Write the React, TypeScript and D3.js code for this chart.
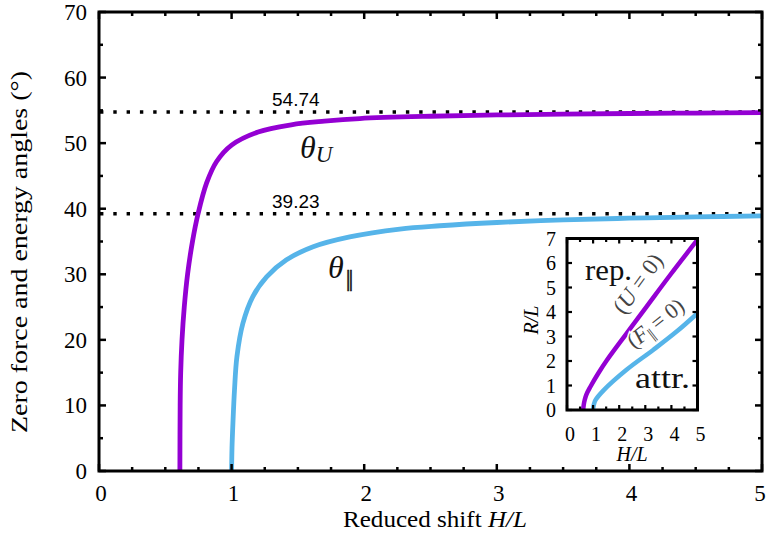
import React from 'react';
import * as d3 from 'd3';

// ---- main panel data ----
const thetaU_H = [0.61, 0.612, 0.616, 0.626, 0.643, 0.668, 0.705, 0.748, 0.811, 0.887, 1.0, 1.2, 1.45, 1.7, 1.967, 2.5, 3.0, 3.5, 4.0, 4.5, 5.0];
const thetaU_deg = [0, 10, 15, 20, 25, 30, 35, 39.3, 43.9, 47.2, 49.7, 51.7, 52.8, 53.35, 53.75, 54.1, 54.3, 54.42, 54.52, 54.59, 54.65];
const thetaPar_H = [1.0, 1.003, 1.01, 1.022, 1.04, 1.085, 1.16, 1.264, 1.414, 1.615, 1.891, 2.268, 2.57, 3.0, 3.5, 4.0, 4.5, 5.0];
const thetaPar_deg = [0, 3.5, 7.3, 12.4, 17.4, 22.5, 26.6, 29.6, 32.2, 34.2, 35.7, 36.9, 37.4, 37.9, 38.3, 38.55, 38.75, 38.9];
const refAngles = [54.74, 39.23];
const refLabels = ['54.74', '39.23'];
const xTicks = [0, 1, 2, 3, 4, 5];
const yTicks = [0, 10, 20, 30, 40, 50, 60, 70];

// ---- inset data ----
const insetU_H = [0.62, 0.64, 0.68, 0.75, 0.88, 1.2, 1.52, 2.28, 3.05, 3.96, 5.0];
const insetU_R = [0, 0.2, 0.42, 0.65, 0.92, 1.5, 2.02, 3.12, 4.22, 5.52, 6.95];
const insetF_H = [1.0, 1.01, 1.04, 1.09, 1.4, 2.28, 3.3, 4.2, 5.0];
const insetF_R = [0, 0.12, 0.26, 0.4, 0.8, 1.64, 2.45, 3.2, 3.95];
const insetXTicks = [0, 1, 2, 3, 4, 5];
const insetYTicks = [0, 1, 2, 3, 4, 5, 6, 7];

const PURPLE = '#9400D3';
const BLUE = '#56B4E9';
const SERIF = '"Liberation Serif", "Times New Roman", serif';
const SANS = '"Liberation Sans", Arial, sans-serif';

export default function App() {
  const x = d3.scaleLinear().domain([0, 5]).range([99, 762]);
  const y = d3.scaleLinear().domain([0, 70]).range([471, 12]);
  const line = d3
    .line<[number, number]>()
    .x((d) => x(d[0]))
    .y((d) => y(d[1]))
    .curve(d3.curveCatmullRom.alpha(0.5));

  const ix = d3.scaleLinear().domain([0, 5]).range([567, 697.5]);
  const iy = d3.scaleLinear().domain([0, 7]).range([410, 238.5]);
  const iline = d3
    .line<[number, number]>()
    .x((d) => ix(d[0]))
    .y((d) => iy(d[1]))
    .curve(d3.curveCatmullRom.alpha(0.5));

  const uPts = thetaU_H.map((h, i) => [h, thetaU_deg[i]] as [number, number]);
  const pPts = thetaPar_H.map((h, i) => [h, thetaPar_deg[i]] as [number, number]);
  const iuPts = insetU_H.map((h, i) => [h, insetU_R[i]] as [number, number]);
  const ifPts = insetF_H.map((h, i) => [h, insetF_R[i]] as [number, number]);

  const xMinor = d3.range(0, 5.001, 0.25);
  const yMinor = d3.range(0, 70.001, 5);
  const ixMinor = d3.range(0, 5.001, 0.5);

  const [x0, x1] = x.range();
  const [y0, y1] = y.range();
  const [ix0, ix1] = ix.range();
  const [iy0, iy1] = iy.range();

  return (
    <svg width={768} height={545} style={{ position: 'absolute', left: 0, top: 0, background: '#fff' }}>
      <rect x={0} y={0} width={768} height={545} fill="#fff" />
      {/* reference dotted lines */}
      {refAngles.map((a, i) => (
        <g key={i}>
          <line x1={x0 + 1} x2={x1} y1={y(a)} y2={y(a)} stroke="#000" strokeWidth={3.4} strokeDasharray="3.4 9.9" />
          <text x={272} y={y(a) - 6} fontFamily={SANS} fontSize={19} fill="#000">{refLabels[i]}</text>
        </g>
      ))}
      {/* curves */}
      <path d={line(uPts) || ''} fill="none" stroke={PURPLE} strokeWidth={4.8} />
      <path d={line(pPts) || ''} fill="none" stroke={BLUE} strokeWidth={4.8} />
      {/* curve labels */}
      <text x={300} y={158} fontFamily={SERIF} fontStyle="italic" fontSize={32} fill="#111">
        θ<tspan fontSize={23} dy={4}>U</tspan>
      </text>
      <text x={328} y={278} fontFamily={SERIF} fontStyle="italic" fontSize={32} fill="#111">
        θ<tspan fontStyle="normal" fontSize={24} dy={8} dx={2} letterSpacing={-2} stroke="#111" strokeWidth={0.5}>||</tspan>
      </text>

      {/* frame & ticks */}
      <rect x={x0} y={y1} width={x1 - x0} height={y0 - y1} fill="none" stroke="#000" strokeWidth={3} />
      {xMinor.map((t, i) => {
        const major = Math.abs(t - Math.round(t)) < 1e-6;
        const L = major ? 7 : 4;
        return (
          <g key={'xm' + i}>
            <line x1={x(t)} x2={x(t)} y1={y0} y2={y0 - L} stroke="#000" strokeWidth={2.5} />
            <line x1={x(t)} x2={x(t)} y1={y1} y2={y1 + L} stroke="#000" strokeWidth={2.5} />
          </g>
        );
      })}
      {yMinor.map((t, i) => {
        const major = t % 10 === 0;
        const L = major ? 7 : 4;
        return (
          <g key={'ym' + i}>
            <line x1={x0} x2={x0 + L} y1={y(t)} y2={y(t)} stroke="#000" strokeWidth={2.5} />
            <line x1={x1} x2={x1 - L} y1={y(t)} y2={y(t)} stroke="#000" strokeWidth={2.5} />
          </g>
        );
      })}
      {xTicks.map((t) => (
        <text key={'xt' + t} x={Math.min(x(t) + 2, 760)} y={501} textAnchor="middle" fontFamily={SERIF} fontSize={23} fill="#000">{t}</text>
      ))}
      {yTicks.map((t) => (
        <text key={'yt' + t} x={87} y={y(t) + 8} textAnchor="end" fontFamily={SERIF} fontSize={23} fill="#000">{t}</text>
      ))}
      <text x={435} y={527} textAnchor="middle" fontFamily={SERIF} fontSize={23} fill="#000" textLength={184} lengthAdjust="spacingAndGlyphs">
        Reduced shift <tspan fontStyle="italic">H/L</tspan>
      </text>
      <text transform="translate(27,252) rotate(-90)" textAnchor="middle" fontFamily={SERIF} fontSize={23} fill="#000" textLength={362} lengthAdjust="spacingAndGlyphs">
        Zero force and energy angles (°)
      </text>

      {/* inset */}
      <rect x={ix0} y={iy1} width={ix1 - ix0} height={iy0 - iy1} fill="#fff" />
      <path d={iline(iuPts) || ''} fill="none" stroke={PURPLE} strokeWidth={4.5} />
      <path d={iline(ifPts) || ''} fill="none" stroke={BLUE} strokeWidth={4.5} />
      <text x={585} y={280} fontFamily={SERIF} fontSize={29} fill="#111" textLength={47} lengthAdjust="spacingAndGlyphs">rep.</text>
      <text x={635} y={388} fontFamily={SERIF} fontSize={29} fill="#111" textLength={55} lengthAdjust="spacingAndGlyphs">attr.</text>
      <text transform="translate(644,288) rotate(-54)" textAnchor="middle" fontFamily={SERIF} fontSize={23} fill="#444" stroke="#fff" strokeWidth={3} paintOrder="stroke">
        (<tspan fontStyle="italic">U</tspan> = 0)
      </text>
      <text transform="translate(660,329) rotate(-38)" textAnchor="middle" fontFamily={SERIF} fontSize={22} fill="#444" stroke="#fff" strokeWidth={3} paintOrder="stroke">
        (<tspan fontStyle="italic">F</tspan><tspan fontSize={16} dy={4} letterSpacing={-1.5}>||</tspan><tspan dy={-4}> = 0)</tspan>
      </text>
      <rect x={ix0} y={iy1} width={ix1 - ix0} height={iy0 - iy1} fill="none" stroke="#000" strokeWidth={3} />
      {ixMinor.map((t, i) => {
        const major = Math.abs(t - Math.round(t)) < 1e-6;
        const L = major ? 5 : 3.5;
        return (
          <g key={'ixm' + i}>
            <line x1={ix(t)} x2={ix(t)} y1={iy0} y2={iy0 - L} stroke="#000" strokeWidth={2.2} />
            <line x1={ix(t)} x2={ix(t)} y1={iy1} y2={iy1 + L} stroke="#000" strokeWidth={2.2} />
          </g>
        );
      })}
      {insetYTicks.map((t) => (
        <g key={'iym' + t}>
          <line x1={ix0} x2={ix0 + 5} y1={iy(t)} y2={iy(t)} stroke="#000" strokeWidth={2.2} />
          <line x1={ix1} x2={ix1 - 5} y1={iy(t)} y2={iy(t)} stroke="#000" strokeWidth={2.2} />
        </g>
      ))}
      {insetXTicks.map((t) => (
        <text key={'ixt' + t} x={ix(t) + 3} y={441} textAnchor="middle" fontFamily={SERIF} fontSize={20} fill="#000">{t}</text>
      ))}
      {insetYTicks.map((t) => (
        <text key={'iyt' + t} x={556} y={iy(t) + 7} textAnchor="end" fontFamily={SERIF} fontSize={20} fill="#000">{t}</text>
      ))}
      <text x={632} y={461} textAnchor="middle" fontFamily={SERIF} fontStyle="italic" fontSize={20} fill="#000">H/L</text>
      <text transform="translate(538,320) rotate(-90)" textAnchor="middle" fontFamily={SERIF} fontStyle="italic" fontSize={20} fill="#000">R/L</text>
    </svg>
  );
}
